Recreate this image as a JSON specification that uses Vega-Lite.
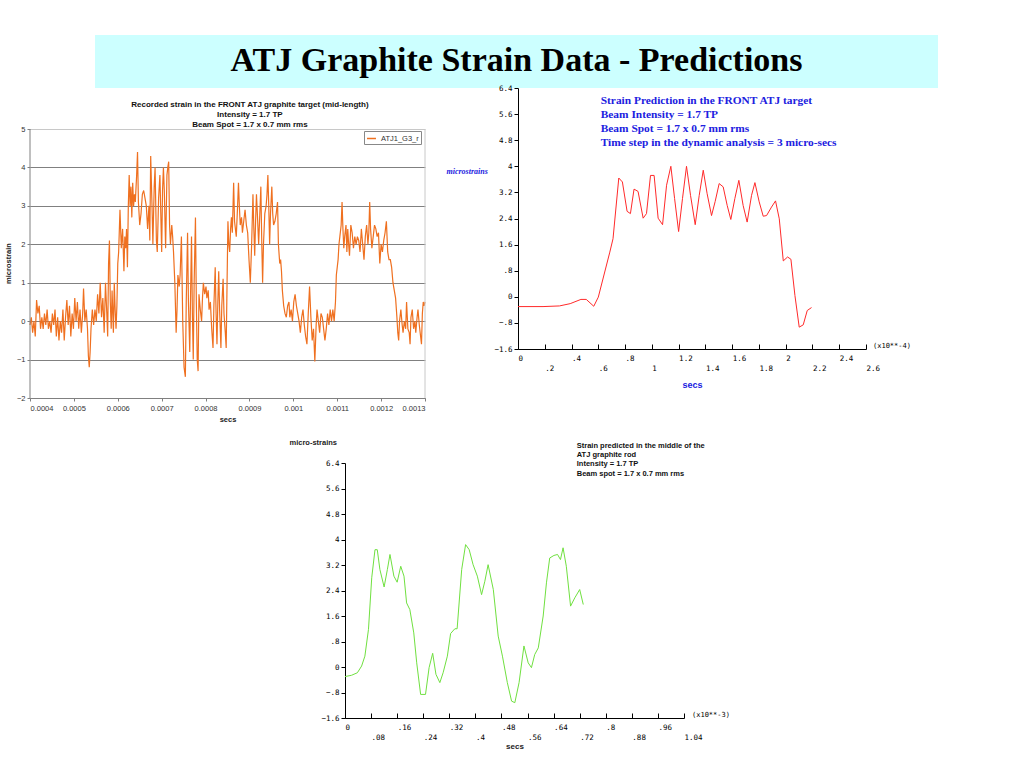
{
  "$schema": "https://vega.github.io/schema/vega-lite/v6.json",
  "background": "white",
  "padding": {"left": 4, "top": 35, "right": 10, "bottom": 10},
  "config": {
    "view": {"stroke": null},
    "axis": {"labelFont": "Liberation Sans", "titleFont": "Liberation Sans", "labelOverlap": false, "tickCount": 20}
  },
  "datasets": {
    "recorded": [
      {"t":400,"v":-0.1},{"t":403,"v":0.1},{"t":406,"v":-0.3},{"t":409,"v":0.0},{"t":412,"v":-0.4},{"t":415,"v":0.55},{"t":418,"v":0.2},{"t":421,"v":0.4},{"t":424,"v":-0.2},{"t":427,"v":0.1},
      {"t":430,"v":-0.2},{"t":433,"v":0.2},{"t":436,"v":-0.1},{"t":439,"v":0.3},{"t":442,"v":-0.2},{"t":445,"v":0.0},{"t":448,"v":-0.3},{"t":451,"v":0.2},{"t":454,"v":-0.1},{"t":457,"v":0.3},
      {"t":460,"v":-0.4},{"t":463,"v":0.1},{"t":466,"v":-0.5},{"t":469,"v":0.0},{"t":472,"v":-0.3},{"t":475,"v":0.3},{"t":478,"v":-0.5},{"t":481,"v":0.1},{"t":484,"v":0.55},{"t":487,"v":-0.1},
      {"t":490,"v":0.4},{"t":493,"v":-0.4},{"t":496,"v":0.2},{"t":499,"v":-0.2},{"t":502,"v":0.6},{"t":505,"v":0.0},{"t":508,"v":0.5},{"t":511,"v":-0.2},{"t":514,"v":0.3},{"t":517,"v":-0.3},
      {"t":520,"v":0.2},{"t":522,"v":0.85},{"t":525,"v":0.0},{"t":528,"v":0.3},{"t":531,"v":-0.2},{"t":533,"v":-0.9},{"t":535,"v":-1.2},{"t":537,"v":-0.8},{"t":539,"v":-0.2},{"t":542,"v":0.3},
      {"t":545,"v":-0.1},{"t":548,"v":0.3},{"t":551,"v":0.0},{"t":554,"v":0.7},{"t":557,"v":0.2},{"t":560,"v":1.0},{"t":563,"v":0.1},{"t":566,"v":0.6},{"t":569,"v":-0.3},{"t":572,"v":1.0},
      {"t":575,"v":0.2},{"t":577,"v":-0.4},{"t":579,"v":1.5},{"t":581,"v":2.1},{"t":583,"v":0.5},{"t":585,"v":-0.2},{"t":587,"v":0.8},{"t":590,"v":-0.3},{"t":592,"v":1.0},{"t":594,"v":0.3},
      {"t":596,"v":-0.2},{"t":598,"v":0.4},{"t":600,"v":1.5},{"t":602,"v":1.8},{"t":605,"v":2.9},{"t":608,"v":1.9},{"t":611,"v":2.4},{"t":614,"v":1.3},{"t":616,"v":2.2},{"t":618,"v":1.9},
      {"t":620,"v":2.4},{"t":622,"v":1.4},{"t":624,"v":3.0},{"t":626,"v":3.8},{"t":628,"v":3.0},{"t":630,"v":3.5},{"t":632,"v":2.7},{"t":634,"v":3.6},{"t":636,"v":3.0},{"t":638,"v":3.3},
      {"t":640,"v":3.1},{"t":643,"v":3.8},{"t":645,"v":4.4},{"t":647,"v":3.1},{"t":650,"v":2.5},{"t":653,"v":2.8},{"t":656,"v":3.3},{"t":659,"v":3.4},{"t":662,"v":3.2},{"t":665,"v":3.0},
      {"t":668,"v":2.4},{"t":671,"v":3.0},{"t":673,"v":2.1},{"t":675,"v":4.3},{"t":678,"v":3.0},{"t":680,"v":2.0},{"t":683,"v":3.5},{"t":685,"v":4.0},{"t":688,"v":2.1},{"t":690,"v":1.8},
      {"t":693,"v":3.2},{"t":696,"v":3.8},{"t":698,"v":2.8},{"t":700,"v":1.8},{"t":702,"v":3.4},{"t":704,"v":4.0},{"t":706,"v":3.4},{"t":709,"v":1.9},{"t":712,"v":3.8},{"t":714,"v":4.0},
      {"t":716,"v":4.15},{"t":718,"v":2.5},{"t":720,"v":2.0},{"t":723,"v":2.5},{"t":725,"v":2.2},{"t":727,"v":1.8},{"t":730,"v":1.0},{"t":733,"v":-0.3},{"t":735,"v":0.3},{"t":737,"v":1.2},
      {"t":740,"v":0.9},{"t":742,"v":1.2},{"t":745,"v":2.2},{"t":748,"v":0.0},{"t":751,"v":-1.2},{"t":754,"v":-1.45},{"t":756,"v":0.5},{"t":759,"v":2.3},{"t":761,"v":0.5},{"t":764,"v":-0.8},
      {"t":766,"v":0.8},{"t":768,"v":2.2},{"t":770,"v":0.2},{"t":772,"v":-1.0},{"t":774,"v":1.0},{"t":777,"v":2.7},{"t":779,"v":0.5},{"t":781,"v":-1.0},{"t":783,"v":-1.3},{"t":785,"v":0.7},
      {"t":788,"v":0.3},{"t":791,"v":0.0},{"t":793,"v":0.6},{"t":795,"v":1.0},{"t":798,"v":0.7},{"t":801,"v":0.9},{"t":803,"v":0.6},{"t":806,"v":0.8},{"t":808,"v":0.3},{"t":811,"v":0.5},
      {"t":814,"v":-0.2},{"t":817,"v":-0.7},{"t":819,"v":0.4},{"t":822,"v":1.4},{"t":824,"v":0.2},{"t":826,"v":-0.6},{"t":828,"v":0.5},{"t":830,"v":1.3},{"t":832,"v":0.3},{"t":835,"v":-0.7},
      {"t":837,"v":0.4},{"t":840,"v":1.1},{"t":842,"v":0.2},{"t":845,"v":-0.3},{"t":847,"v":-0.7},{"t":849,"v":1.0},{"t":851,"v":2.6},{"t":853,"v":2.0},{"t":855,"v":1.8},{"t":857,"v":2.4},
      {"t":859,"v":2.7},{"t":861,"v":2.3},{"t":864,"v":3.6},{"t":866,"v":2.6},{"t":868,"v":2.4},{"t":870,"v":2.2},{"t":873,"v":3.0},{"t":875,"v":3.6},{"t":877,"v":3.0},{"t":879,"v":2.5},
      {"t":882,"v":2.7},{"t":884,"v":2.3},{"t":887,"v":2.6},{"t":890,"v":2.9},{"t":893,"v":2.5},{"t":896,"v":2.3},{"t":899,"v":1.6},{"t":902,"v":1.0},{"t":905,"v":2.0},{"t":908,"v":3.3},
      {"t":910,"v":2.4},{"t":912,"v":1.7},{"t":914,"v":2.6},{"t":916,"v":3.3},{"t":918,"v":2.8},{"t":921,"v":2.0},{"t":923,"v":2.6},{"t":926,"v":3.5},{"t":928,"v":2.1},{"t":930,"v":1.0},
      {"t":932,"v":2.0},{"t":935,"v":2.8},{"t":938,"v":3.0},{"t":940,"v":3.3},{"t":942,"v":3.8},{"t":944,"v":3.0},{"t":946,"v":2.0},{"t":948,"v":2.8},{"t":951,"v":3.5},{"t":953,"v":2.8},
      {"t":955,"v":2.5},{"t":958,"v":2.6},{"t":961,"v":2.8},{"t":964,"v":3.1},{"t":966,"v":2.0},{"t":969,"v":1.5},{"t":971,"v":1.6},{"t":973,"v":1.3},{"t":975,"v":0.8},{"t":978,"v":0.4},
      {"t":981,"v":0.2},{"t":984,"v":0.1},{"t":987,"v":0.4},{"t":990,"v":0.5},{"t":992,"v":0.1},{"t":995,"v":0.3},{"t":998,"v":0.0},{"t":1001,"v":0.5},{"t":1004,"v":0.7},{"t":1007,"v":0.4},
      {"t":1010,"v":0.2},{"t":1013,"v":0.0},{"t":1016,"v":-0.3},{"t":1019,"v":0.1},{"t":1022,"v":0.3},{"t":1025,"v":-0.1},{"t":1028,"v":-0.4},{"t":1031,"v":-0.6},{"t":1034,"v":0.2},{"t":1037,"v":0.9},
      {"t":1040,"v":0.1},{"t":1043,"v":-0.5},{"t":1046,"v":-0.2},{"t":1049,"v":-1.05},{"t":1052,"v":-0.1},{"t":1054,"v":0.3},{"t":1057,"v":0.0},{"t":1060,"v":-0.3},{"t":1063,"v":0.2},{"t":1066,"v":0.1},
      {"t":1069,"v":-0.2},{"t":1072,"v":-0.5},{"t":1075,"v":-0.2},{"t":1078,"v":0.2},{"t":1081,"v":-0.1},{"t":1084,"v":0.3},{"t":1087,"v":0.0},{"t":1090,"v":0.3},{"t":1093,"v":0.0},{"t":1096,"v":0.5},
      {"t":1098,"v":1.2},{"t":1100,"v":1.4},{"t":1102,"v":1.6},{"t":1104,"v":2.0},{"t":1106,"v":2.2},{"t":1109,"v":2.5},{"t":1111,"v":3.1},{"t":1113,"v":2.4},{"t":1115,"v":1.9},{"t":1117,"v":2.2},
      {"t":1120,"v":2.5},{"t":1122,"v":1.8},{"t":1124,"v":2.4},{"t":1126,"v":2.0},{"t":1128,"v":1.7},{"t":1131,"v":2.5},{"t":1134,"v":2.3},{"t":1137,"v":1.9},{"t":1140,"v":2.2},{"t":1143,"v":2.0},
      {"t":1146,"v":2.2},{"t":1149,"v":2.1},{"t":1152,"v":1.8},{"t":1155,"v":2.4},{"t":1158,"v":2.0},{"t":1161,"v":1.6},{"t":1164,"v":2.2},{"t":1167,"v":2.5},{"t":1170,"v":2.0},{"t":1172,"v":2.3},
      {"t":1174,"v":3.1},{"t":1176,"v":2.4},{"t":1179,"v":1.9},{"t":1182,"v":2.2},{"t":1185,"v":2.5},{"t":1188,"v":2.4},{"t":1191,"v":2.2},{"t":1194,"v":2.3},{"t":1197,"v":1.5},{"t":1200,"v":2.0},
      {"t":1203,"v":1.8},{"t":1206,"v":2.1},{"t":1209,"v":2.3},{"t":1212,"v":2.6},{"t":1215,"v":1.8},{"t":1218,"v":1.6},{"t":1221,"v":1.6},{"t":1224,"v":1.4},{"t":1227,"v":1.0},{"t":1230,"v":0.8},
      {"t":1233,"v":0.6},{"t":1236,"v":0.1},{"t":1238,"v":-0.3},{"t":1240,"v":-0.5},{"t":1242,"v":0.0},{"t":1245,"v":0.3},{"t":1248,"v":-0.1},{"t":1250,"v":-0.3},{"t":1253,"v":0.0},{"t":1256,"v":-0.2},
      {"t":1258,"v":0.5},{"t":1261,"v":-0.2},{"t":1264,"v":-0.3},{"t":1266,"v":-0.6},{"t":1268,"v":0.1},{"t":1271,"v":0.3},{"t":1274,"v":-0.2},{"t":1277,"v":0.0},{"t":1279,"v":-0.3},{"t":1282,"v":0.1},
      {"t":1284,"v":0.3},{"t":1287,"v":-0.1},{"t":1290,"v":-0.4},{"t":1292,"v":-0.6},{"t":1294,"v":0.2},{"t":1296,"v":0.5},{"t":1298,"v":0.4},{"t":1300,"v":0.5}
    ],
    "front": [
      {"x":0,"y":-0.3},{"x":0.187,"y":-0.3},{"x":0.31,"y":-0.28},{"x":0.39,"y":-0.21},{"x":0.47,"y":-0.08},{"x":0.51,"y":-0.08},{"x":0.566,"y":-0.29},{"x":0.6,"y":-0.01},
      {"x":0.648,"y":0.76},{"x":0.686,"y":1.37},{"x":0.71,"y":1.78},{"x":0.753,"y":3.64},{"x":0.78,"y":3.52},{"x":0.815,"y":2.62},{"x":0.84,"y":2.55},{"x":0.867,"y":3.3},
      {"x":0.897,"y":3.23},{"x":0.935,"y":2.41},{"x":0.96,"y":2.55},{"x":0.99,"y":3.72},{"x":1.017,"y":3.72},{"x":1.047,"y":2.41},{"x":1.08,"y":2.21},{"x":1.11,"y":3.42},
      {"x":1.142,"y":4.0},{"x":1.17,"y":3.01},{"x":1.2,"y":2.0},{"x":1.229,"y":3.01},{"x":1.259,"y":4.0},{"x":1.289,"y":3.11},{"x":1.324,"y":2.21},{"x":1.354,"y":3.11},
      {"x":1.384,"y":3.88},{"x":1.413,"y":3.16},{"x":1.446,"y":2.49},{"x":1.473,"y":2.92},{"x":1.503,"y":3.47},{"x":1.533,"y":3.37},{"x":1.563,"y":2.8},{"x":1.59,"y":2.37},
      {"x":1.62,"y":3.01},{"x":1.65,"y":3.57},{"x":1.682,"y":2.8},{"x":1.712,"y":2.29},{"x":1.745,"y":3.11},{"x":1.77,"y":3.5},{"x":1.802,"y":2.91},{"x":1.832,"y":2.47},
      {"x":1.857,"y":2.49},{"x":1.894,"y":2.75},{"x":1.924,"y":2.94},{"x":1.952,"y":2.39},{"x":1.982,"y":1.1},{"x":2.014,"y":1.22},{"x":2.039,"y":1.15},{"x":2.069,"y":0.04},
      {"x":2.101,"y":-0.93},{"x":2.131,"y":-0.86},{"x":2.161,"y":-0.42},{"x":2.193,"y":-0.33}
    ],
    "middle": [
      {"x":0,"y":-0.3},{"x":0.02,"y":-0.26},{"x":0.038,"y":-0.18},{"x":0.051,"y":0.03},{"x":0.061,"y":0.34},{"x":0.072,"y":1.18},{"x":0.082,"y":2.8},{"x":0.092,"y":3.68},
      {"x":0.099,"y":3.68},{"x":0.107,"y":3.06},{"x":0.12,"y":2.51},{"x":0.13,"y":3.06},{"x":0.138,"y":3.53},{"x":0.15,"y":2.85},{"x":0.16,"y":2.66},{"x":0.171,"y":3.16},
      {"x":0.181,"y":2.85},{"x":0.189,"y":2.01},{"x":0.199,"y":1.8},{"x":0.211,"y":1.07},{"x":0.22,"y":0.13},{"x":0.232,"y":-0.86},{"x":0.247,"y":-0.86},{"x":0.258,"y":-0.02},
      {"x":0.269,"y":0.43},{"x":0.279,"y":-0.23},{"x":0.291,"y":-0.49},{"x":0.301,"y":-0.18},{"x":0.314,"y":0.34},{"x":0.324,"y":1.05},{"x":0.337,"y":1.2},{"x":0.344,"y":1.2},
      {"x":0.358,"y":3.06},{"x":0.37,"y":3.84},{"x":0.381,"y":3.68},{"x":0.393,"y":3.21},{"x":0.406,"y":2.85},{"x":0.419,"y":2.27},{"x":0.429,"y":2.69},{"x":0.439,"y":3.21},
      {"x":0.455,"y":2.43},{"x":0.47,"y":0.97},{"x":0.483,"y":0.34},{"x":0.498,"y":-0.49},{"x":0.511,"y":-1.07},{"x":0.521,"y":-1.12},{"x":0.534,"y":-0.49},{"x":0.549,"y":0.66},
      {"x":0.562,"y":0.13},{"x":0.572,"y":-0.02},{"x":0.582,"y":0.39},{"x":0.593,"y":0.6},{"x":0.608,"y":1.6},{"x":0.618,"y":2.64},{"x":0.628,"y":3.42},{"x":0.641,"y":3.5},
      {"x":0.652,"y":3.53},{"x":0.661,"y":3.37},{"x":0.669,"y":3.74},{"x":0.679,"y":3.16},{"x":0.692,"y":1.91},{"x":0.705,"y":2.17},{"x":0.72,"y":2.43},{"x":0.731,"y":1.96}
    ]
  },
  "spacing": -4,
  "vconcat": [
    {
      "spacing": 0,
      "bounds": "flush",
      "hconcat": [
        {"width": 65, "height": 1, "data": {"values": [{}]}, "mark": {"type": "point", "size": 0, "opacity": 0}, "encoding": {}},
        {
          "width": 843,
          "height": 53,
          "view": {"fill": "#ccffff", "stroke": null},
          "data": {"values": [{"title": "ATJ Graphite Strain Data - Predictions"}]},
          "mark": {"type": "text", "font": "Liberation Serif", "fontSize": 34, "fontWeight": "bold", "color": "black", "baseline": "alphabetic", "dy": 9},
          "encoding": {"text": {"field": "title"}}
        }
      ]
    },
    {
      "spacing": 0,
      "bounds": "flush",
      "hconcat": [
        {
          "width": 395,
          "height": 310,
          "layer": [
            {
              "data": {"name": "recorded"},
              "mark": {"type": "line", "strokeWidth": 1.2},
              "encoding": {
                "x": {
                  "field": "t",
                  "type": "quantitative",
                  "scale": {"domain": [400, 1300], "nice": false},
                  "axis": {
                    "values": [400, 500, 600, 700, 800, 900, 1000, 1100, 1200, 1300],
                    "labelExpr": "format(datum.value / 1000000, '~g')",
                    "grid": false,
                    "domainColor": "#808080",
                    "tickColor": "#808080",
                    "tickSize": 3,
                    "labelFontSize": 7.5,
                    "labelColor": "#333333",
                    "labelPadding": 3,
                    "title": "secs",
                    "titleFontSize": 7.5,
                    "titleFontWeight": "bold",
                    "titleColor": "#222222",
                    "titlePadding": 4
                  }
                },
                "y": {
                  "field": "v",
                  "type": "quantitative",
                  "scale": {"domain": [-2, 6.067], "nice": false, "zero": false},
                  "axis": {
                    "values": [-2, -1, 0, 1, 2, 3, 4, 5],
                    "format": "d",
                    "domain": false,
                    "grid": true,
                    "gridColor": {"condition": {"test": "datum.value == 5", "value": "#c8c8c8"}, "value": "#808080"},
                    "tickSize": 3,
                    "tickColor": "#808080",
                    "labelFontSize": 7.5,
                    "labelColor": "#333333",
                    "labelPadding": 2,
                    "title": "microstrain",
                    "titleFontSize": 7.5,
                    "titleFontWeight": "bold",
                    "titleColor": "#222222",
                    "titleX": -22,
                    "titleY": 175,
                    "titleAlign": "center",
                    "titleBaseline": "middle"
                  }
                },
                "color": {
                  "datum": "ATJ1_G3_r",
                  "scale": {"range": ["#ef7020"]},
                  "legend": {
                    "orient": "none",
                    "legendX": 334,
                    "legendY": 96,
                    "title": null,
                    "strokeColor": "#888888",
                    "fillColor": "white",
                    "padding": 2,
                    "symbolType": "stroke",
                    "symbolStrokeWidth": 1.5,
                    "symbolSize": 80,
                    "labelFontSize": 7.5,
                    "labelFont": "Liberation Sans",
                    "labelColor": "#333333"
                  }
                }
              }
            },
            {
              "data": {"values": [{}]},
              "mark": {"type": "rule", "color": "#c8c8c8"},
              "encoding": {"x": {"datum": 1300}, "y": {"datum": -2}, "y2": {"datum": 5}}
            },
            {
              "data": {"values": [{}]},
              "mark": {"type": "rule", "color": "#808080"},
              "encoding": {"x": {"datum": 400}, "y": {"datum": -2}, "y2": {"datum": 5}}
            },
            {
              "data": {"values": [{}]},
              "mark": {"type": "text", "font": "Liberation Sans", "fontSize": 8, "fontWeight": "bold", "color": "#111111", "align": "center", "baseline": "top", "lineHeight": 10},
              "encoding": {
                "x": {"datum": 901},
                "y": {"datum": 5.74},
                "text": {"value": ["Recorded strain in the FRONT ATJ graphite target (mid-length)", "Intensity = 1.7 TP", "Beam Spot = 1.7 x 0.7 mm rms"]}
              }
            }
          ]
        },
        {"width": 93, "height": 1, "data": {"values": [{}]}, "mark": {"type": "point", "size": 0, "opacity": 0}, "encoding": {}},
        {
          "width": 348,
          "height": 261,
          "layer": [
            {
              "data": {"name": "front"},
              "mark": {"type": "line", "color": "#ff2a2a", "strokeWidth": 1},
              "encoding": {
                "x": {
                  "field": "x",
                  "type": "quantitative",
                  "scale": {"domain": [0, 2.6], "nice": false},
                  "axis": {
                    "values": [0, 0.2, 0.4, 0.6, 0.8, 1, 1.2, 1.4, 1.6, 1.8, 2, 2.2, 2.4, 2.6],
                    "labelExpr": "replace(format(datum.value, '~g'), '0.', '.')",
                    "grid": false,
                    "domainColor": "black",
                    "tickColor": "black",
                    "tickSize": -5,
                    "labelAlign": "left",
                    "labelBaseline": "middle",
                    "labelPadding": {"condition": {"test": "round(datum.value * 10) % 4 == 2", "value": 24}, "value": 14},
                    "labelFont": "DejaVu Sans Mono",
                    "labelFontSize": 7.5,
                    "labelColor": "black",
                    "title": "secs",
                    "titleFont": "Liberation Sans",
                    "titleFontSize": 9,
                    "titleFontWeight": "bold",
                    "titleColor": "#2020e0",
                    "titlePadding": 9
                  }
                },
                "y": {
                  "field": "y",
                  "type": "quantitative",
                  "scale": {"domain": [-1.6, 6.4], "nice": false, "zero": false},
                  "axis": {
                    "values": [-1.6, -0.8, 0, 0.8, 1.6, 2.4, 3.2, 4, 4.8, 5.6, 6.4],
                    "labelExpr": "replace(format(datum.value, '~g'), '0.', '.')",
                    "grid": false,
                    "domainColor": "black",
                    "tickColor": "black",
                    "tickSize": 4,
                    "labelPadding": 2,
                    "labelFont": "DejaVu Sans Mono",
                    "labelFontSize": 7.5,
                    "labelColor": "black",
                    "title": "microstrains",
                    "titleAngle": 0,
                    "titleAlign": "left",
                    "titleBaseline": "middle",
                    "titleX": -72,
                    "titleY": 83,
                    "titleFont": "Liberation Serif",
                    "titleFontStyle": "italic",
                    "titleFontWeight": "bold",
                    "titleFontSize": 8,
                    "titleColor": "#2020e0"
                  }
                }
              }
            },
            {
              "data": {"values": [{}]},
              "mark": {"type": "text", "font": "Liberation Serif", "fontWeight": "bold", "fontSize": 11.4, "color": "#2020e0", "align": "left", "baseline": "top", "lineHeight": 14},
              "encoding": {
                "x": {"datum": 0.618},
                "y": {"datum": 6.2},
                "text": {"value": ["Strain Prediction in the FRONT ATJ target", "Beam Intensity = 1.7 TP", "Beam Spot = 1.7 x 0.7 mm rms", "Time step in the dynamic analysis = 3 micro-secs"]}
              }
            },
            {
              "data": {"values": [{}]},
              "mark": {"type": "text", "font": "DejaVu Sans Mono", "fontSize": 7, "color": "black", "align": "left", "baseline": "middle", "dx": 7, "dy": -3},
              "encoding": {"x": {"datum": 2.6}, "y": {"datum": -1.6}, "text": {"value": "(x10**-4)"}}
            }
          ]
        }
      ]
    },
    {"width": 1, "height": 19, "data": {"values": [{}]}, "mark": {"type": "point", "size": 0, "opacity": 0}, "encoding": {}},
    {
      "spacing": 0,
      "bounds": "flush",
      "hconcat": [
        {"width": 315, "height": 1, "data": {"values": [{}]}, "mark": {"type": "point", "size": 0, "opacity": 0}, "encoding": {}},
        {
          "width": 339,
          "height": 255,
          "layer": [
            {
              "data": {"name": "middle"},
              "mark": {"type": "line", "color": "#70e040", "strokeWidth": 1},
              "encoding": {
                "x": {
                  "field": "x",
                  "type": "quantitative",
                  "scale": {"domain": [0, 1.04], "nice": false},
                  "axis": {
                    "values": [0, 0.08, 0.16, 0.24, 0.32, 0.4, 0.48, 0.56, 0.64, 0.72, 0.8, 0.88, 0.96, 1.04],
                    "labelExpr": "replace(format(datum.value, '~g'), '0.', '.')",
                    "grid": false,
                    "domainColor": "black",
                    "tickColor": "black",
                    "tickSize": -5,
                    "labelAlign": "left",
                    "labelBaseline": "middle",
                    "labelPadding": {"condition": {"test": "round(datum.value / 0.08) % 2 == 1", "value": 24}, "value": 14.5},
                    "labelFont": "DejaVu Sans Mono",
                    "labelFontSize": 7.5,
                    "labelColor": "black",
                    "title": "secs",
                    "titleFont": "Liberation Sans",
                    "titleFontSize": 8,
                    "titleFontWeight": "bold",
                    "titleColor": "#222222",
                    "titlePadding": 2
                  }
                },
                "y": {
                  "field": "y",
                  "type": "quantitative",
                  "scale": {"domain": [-1.6, 6.4], "nice": false, "zero": false},
                  "axis": {
                    "values": [-1.6, -0.8, 0, 0.8, 1.6, 2.4, 3.2, 4, 4.8, 5.6, 6.4],
                    "labelExpr": "replace(format(datum.value, '~g'), '0.', '.')",
                    "grid": false,
                    "domainColor": "black",
                    "tickColor": "black",
                    "tickSize": 4,
                    "labelPadding": 2,
                    "labelFont": "DejaVu Sans Mono",
                    "labelFontSize": 7.5,
                    "labelColor": "black",
                    "title": "micro-strains",
                    "titleAngle": 0,
                    "titleAlign": "left",
                    "titleBaseline": "middle",
                    "titleX": -56,
                    "titleY": -21,
                    "titleFont": "Liberation Sans",
                    "titleFontWeight": "bold",
                    "titleFontSize": 7.5,
                    "titleColor": "#222222"
                  }
                }
              }
            },
            {
              "data": {"values": [{}]},
              "mark": {"type": "text", "font": "Liberation Sans", "fontWeight": "bold", "fontSize": 7.5, "color": "#111111", "align": "left", "baseline": "top", "lineHeight": 9.3},
              "encoding": {
                "x": {"datum": 0.711},
                "y": {"datum": 7.07},
                "text": {"value": ["Strain predicted in the middle of the", "ATJ graphite rod", "Intensity = 1.7 TP", "Beam spot = 1.7 x 0.7 mm rms"]}
              }
            },
            {
              "data": {"values": [{}]},
              "mark": {"type": "text", "font": "DejaVu Sans Mono", "fontSize": 7, "color": "black", "align": "left", "baseline": "middle", "dx": 8, "dy": -3},
              "encoding": {"x": {"datum": 1.04}, "y": {"datum": -1.6}, "text": {"value": "(x10**-3)"}}
            }
          ]
        }
      ]
    }
  ]
}
